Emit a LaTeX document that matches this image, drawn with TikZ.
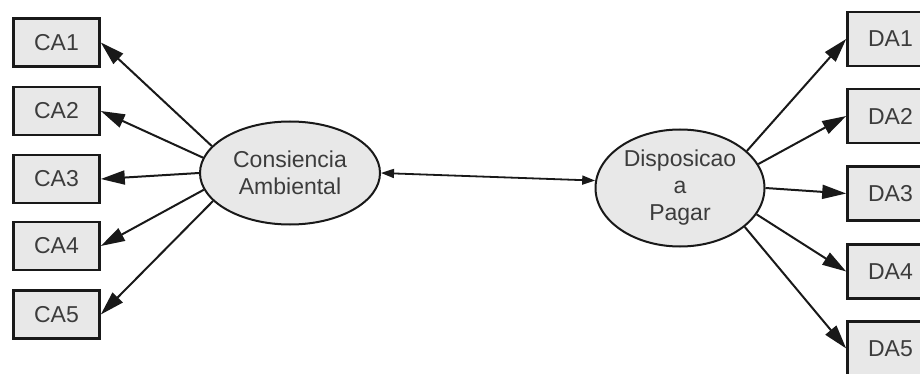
\documentclass[tikz,border=0pt]{standalone}
\usepackage{fontspec}
\setmainfont{Liberation Sans}
\usepackage{tikz}
\usetikzlibrary{shapes.geometric, arrows.meta}
\definecolor{boxgray}{RGB}{232, 232, 232}
\definecolor{linegray}{RGB}{25, 25, 25}
\definecolor{textgray}{RGB}{60, 60, 60}

\begin{document}
\begin{tikzpicture}[x=1pt, y=-1pt,
    itembox/.style={draw=linegray, line width=2.6pt, fill=boxgray, minimum width=86pt, text=textgray, font=\fontsize{23}{27}\selectfont},
    latent/.style={ellipse, draw=linegray, line width=2pt, fill=boxgray, inner sep=0pt, align=center, text=textgray, font=\fontsize{23}{27}\selectfont},
    load/.style={draw=linegray, line width=2pt, -{Triangle[length=24pt, width=14pt]}},
  ]
  \useasboundingbox (0,0) rectangle (920,374);
  \clip (0,0) rectangle (920,374);

  % Latent variables
  \node[latent, minimum width=180pt, minimum height=103pt] (ce) at (290, 173) {Consiencia\\Ambiental};
  \node[latent, minimum width=169pt, minimum height=117pt] (dp) at (680, 188) {Disposicao\\a\\Pagar};

  % Indicators
  \node[itembox, minimum height=48pt] (ca1) at (56.5, 42.5) {CA1};
  \node[itembox, minimum height=48pt] (ca2) at (56.5, 111) {CA2};
  \node[itembox, minimum height=48pt] (ca3) at (56.5, 179) {CA3};
  \node[itembox, minimum height=48pt] (ca4) at (56.5, 246) {CA4};
  \node[itembox, minimum height=48pt] (ca5) at (56.5, 314.5) {CA5};

  \node[itembox, minimum height=54pt] (da1) at (890.5, 39) {DA1};
  \node[itembox, minimum height=54pt] (da2) at (890.5, 116) {DA2};
  \node[itembox, minimum height=54pt] (da3) at (890.5, 193.5) {DA3};
  \node[itembox, minimum height=54pt] (da4) at (890.5, 271.5) {DA4};
  \node[itembox, minimum height=54pt] (da5) at (890.5, 348.5) {DA5};

  % Loadings
  \draw[load] (ce.161) -- (ca1.east);
  \draw[load] (ce.170) -- (ca2.east);
  \draw[load] (ce.180) -- (ca3.east);
  \draw[load] (ce.191) -- (ca4.east);
  \draw[load] (ce.200) -- (ca5.east);

  \draw[load] (dp.29) -- (da1.west);
  \draw[load] (dp.17) -- (da2.west);
  \draw[load] (dp.0) -- (da3.west);
  \draw[load] (dp.-19) -- (da4.west);
  \draw[load] (dp.-31) -- (da5.west);

  % Covariance
  \draw[draw=linegray, line width=1.8pt, {Triangle[length=13pt, width=9pt]}-{Triangle[length=13pt, width=9pt]}] (ce.east) -- (dp.175);
\end{tikzpicture}
\end{document}
